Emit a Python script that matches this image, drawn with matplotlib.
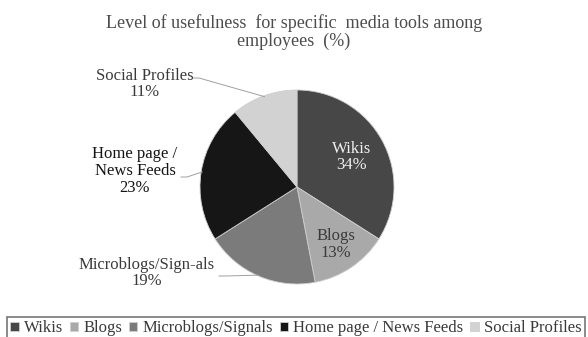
import numpy as np
import matplotlib.pyplot as plt

plt.rcParams['font.family'] = ['Liberation Serif', 'DejaVu Serif']

categories = ['Wikis', 'Blogs', 'Microblogs/Signals', 'Home page / News Feeds', 'Social Profiles']
slice_labels = ['Wikis', 'Blogs', 'Microblogs/Sign-als', 'Home page /\nNews Feeds', 'Social Profiles']
shares = [34, 13, 19, 23, 11]
colors = ['#474747', '#a9a9a9', '#7b7b7b', '#161616', '#d2d2d2']

W, H = 588, 337
fig = plt.figure(figsize=(W / 100, H / 100), dpi=100)
ax = fig.add_axes([0, 0, 1, 1])

cx, cy, r = 297, 150, 97
wedges, _ = ax.pie(shares, colors=colors, startangle=90, counterclock=False,
                   center=(cx, cy), radius=r, frame=True,
                   wedgeprops=dict(linewidth=0.6, edgecolor='#cfcfcf'))
ax.set_xlim(0, W)
ax.set_ylim(0, H)
ax.set_aspect('equal')
ax.axis('off')

# label placement: inside radial factor, or outside text position in px
inside = {0: (0.64, '#f0f0f0'), 1: (0.72, '#3a3a3a')}
outside = {2: (147, 64), 3: (135, 166), 4: (145, 253)}
text_colors = {2: '#3a3a3a', 3: '#141414', 4: '#3a3a3a'}
line_start = {2: (219, 61), 3: (181, 160), 4: (193, 259)}

for i, w in enumerate(wedges):
    mid = np.deg2rad((w.theta1 + w.theta2) / 2)
    txt = f'{slice_labels[i]}\n{shares[i]}%'
    if i in inside:
        f, c = inside[i]
        ax.text(cx + f * r * np.cos(mid), cy + f * r * np.sin(mid), txt,
                ha='center', va='center', fontsize=12, color=c, linespacing=1.05)
    else:
        tx, ty = outside[i]
        ax.text(tx, ty, txt, ha='center', va='center', fontsize=12,
                color=text_colors[i], linespacing=1.05)
        ex, ey = cx + r * 0.99 * np.cos(mid), cy + r * 0.99 * np.sin(mid)
        sx, sy = line_start[i]
        ax.plot([sx, sx + 6, ex], [sy, sy, ey], color='#a0a0a0', lw=0.7)

fig.text(0.5, 1 - 32 / H, 'Level of usefulness  for specific  media tools among\nemployees  (%)',
         ha='center', va='center', fontsize=13, color='#4c4c4c', linespacing=1.05)

leg = fig.legend(wedges, categories, loc='lower center', bbox_to_anchor=(0.503, -0.008),
                 ncol=5, fontsize=12, handlelength=0.5, handleheight=0.5,
                 handletextpad=0.3, columnspacing=0.42, borderpad=0.2,
                 borderaxespad=0, fancybox=False, frameon=True)
leg.get_frame().set_edgecolor('#555555')
leg.get_frame().set_linewidth(1.2)
for t in leg.get_texts():
    t.set_color('#3a3a3a')

fig.savefig('out.png', dpi=100)
